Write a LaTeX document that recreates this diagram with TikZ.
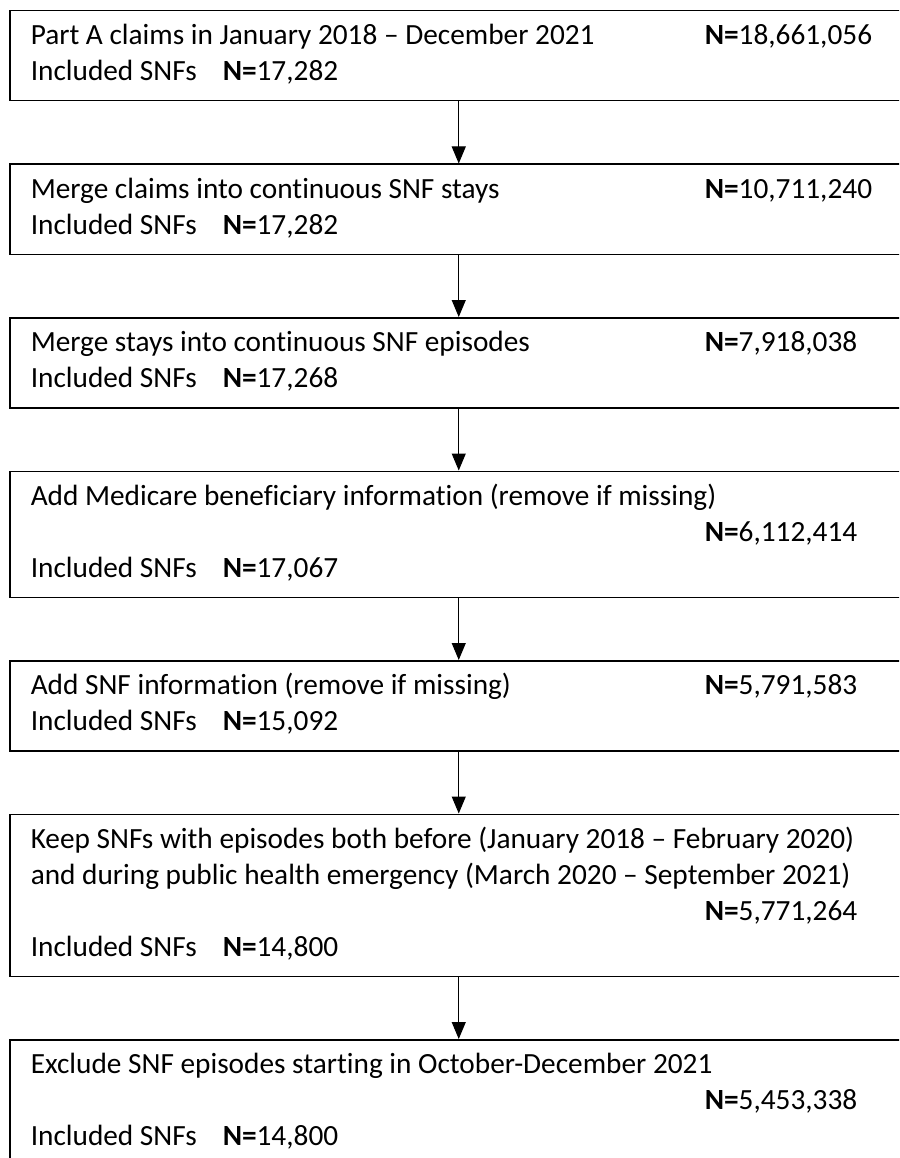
\documentclass[tikz,border=0pt]{standalone}
\usepackage{fontspec}
\setmainfont{Carlito}[Ligatures=NoCommon]
\usetikzlibrary{positioning,arrows.meta}
\newcommand{\nv}[1]{\textbf{N=}#1}
\newcommand{\wide}[1]{\multicolumn{2}{@{}l@{}}{#1}}
\newcommand{\snfs}[1]{\makebox[192pt][l]{Included SNFs}\nv{#1}}
\begin{document}
\begin{tikzpicture}[x=1pt,y=1pt]
        \tikzset{
          stepbox/.style={draw,line width=1.5pt,rectangle,inner xsep=21pt,inner ysep=9pt,
            font=\fontsize{29.3}{36}\selectfont},
          flowarrow/.style={line width=1pt,-{Triangle[width=14pt,length=17pt]}}
        }
        \clip (0,0) rectangle (899,-1158);

        %BOXES
        \node[stepbox,anchor=north west] (b1) at (9,-10) {\begin{tabular}{@{}p{674pt}@{}p{182pt}@{}}
          Part A claims in January 2018 -- December 2021 & \nv{18,661,056}\\
          \snfs{17,282} & \end{tabular}};
        \node[stepbox,below=62pt of b1] (b2) {\begin{tabular}{@{}p{674pt}@{}p{182pt}@{}}
          Merge claims into continuous SNF stays & \nv{10,711,240}\\
          \snfs{17,282} & \end{tabular}};
        \node[stepbox,below=62pt of b2] (b3) {\begin{tabular}{@{}p{674pt}@{}p{182pt}@{}}
          Merge stays into continuous SNF episodes & \nv{7,918,038}\\
          \snfs{17,268} & \end{tabular}};
        \node[stepbox,below=62pt of b3] (b4) {\begin{tabular}{@{}p{674pt}@{}p{182pt}@{}}
          \wide{Add Medicare beneficiary information (remove if missing)}\\
          & \nv{6,112,414}\\
          \snfs{17,067} & \end{tabular}};
        \node[stepbox,below=62pt of b4] (b5) {\begin{tabular}{@{}p{674pt}@{}p{182pt}@{}}
          Add SNF information (remove if missing) & \nv{5,791,583}\\
          \snfs{15,092} & \end{tabular}};
        \node[stepbox,below=62pt of b5] (b6) {\begin{tabular}{@{}p{674pt}@{}p{182pt}@{}}
          \wide{Keep SNFs with episodes both before (January 2018 -- February 2020)}\\
          \wide{and during public health emergency (March 2020 -- September 2021)}\\
          & \nv{5,771,264}\\
          \snfs{14,800} & \end{tabular}};
        \node[stepbox,below=62pt of b6] (b7) {\begin{tabular}{@{}p{674pt}@{}p{182pt}@{}}
          \wide{Exclude SNF episodes starting in October-December 2021}\\
          & \nv{5,453,338}\\
          \snfs{14,800} & \end{tabular}};

        %ARROWS
        \foreach \a/\b in {b1/b2,b2/b3,b3/b4,b4/b5,b5/b6,b6/b7}
          \draw[flowarrow] (\a.south) -- (\b.north);
    \end{tikzpicture}
\end{document}
